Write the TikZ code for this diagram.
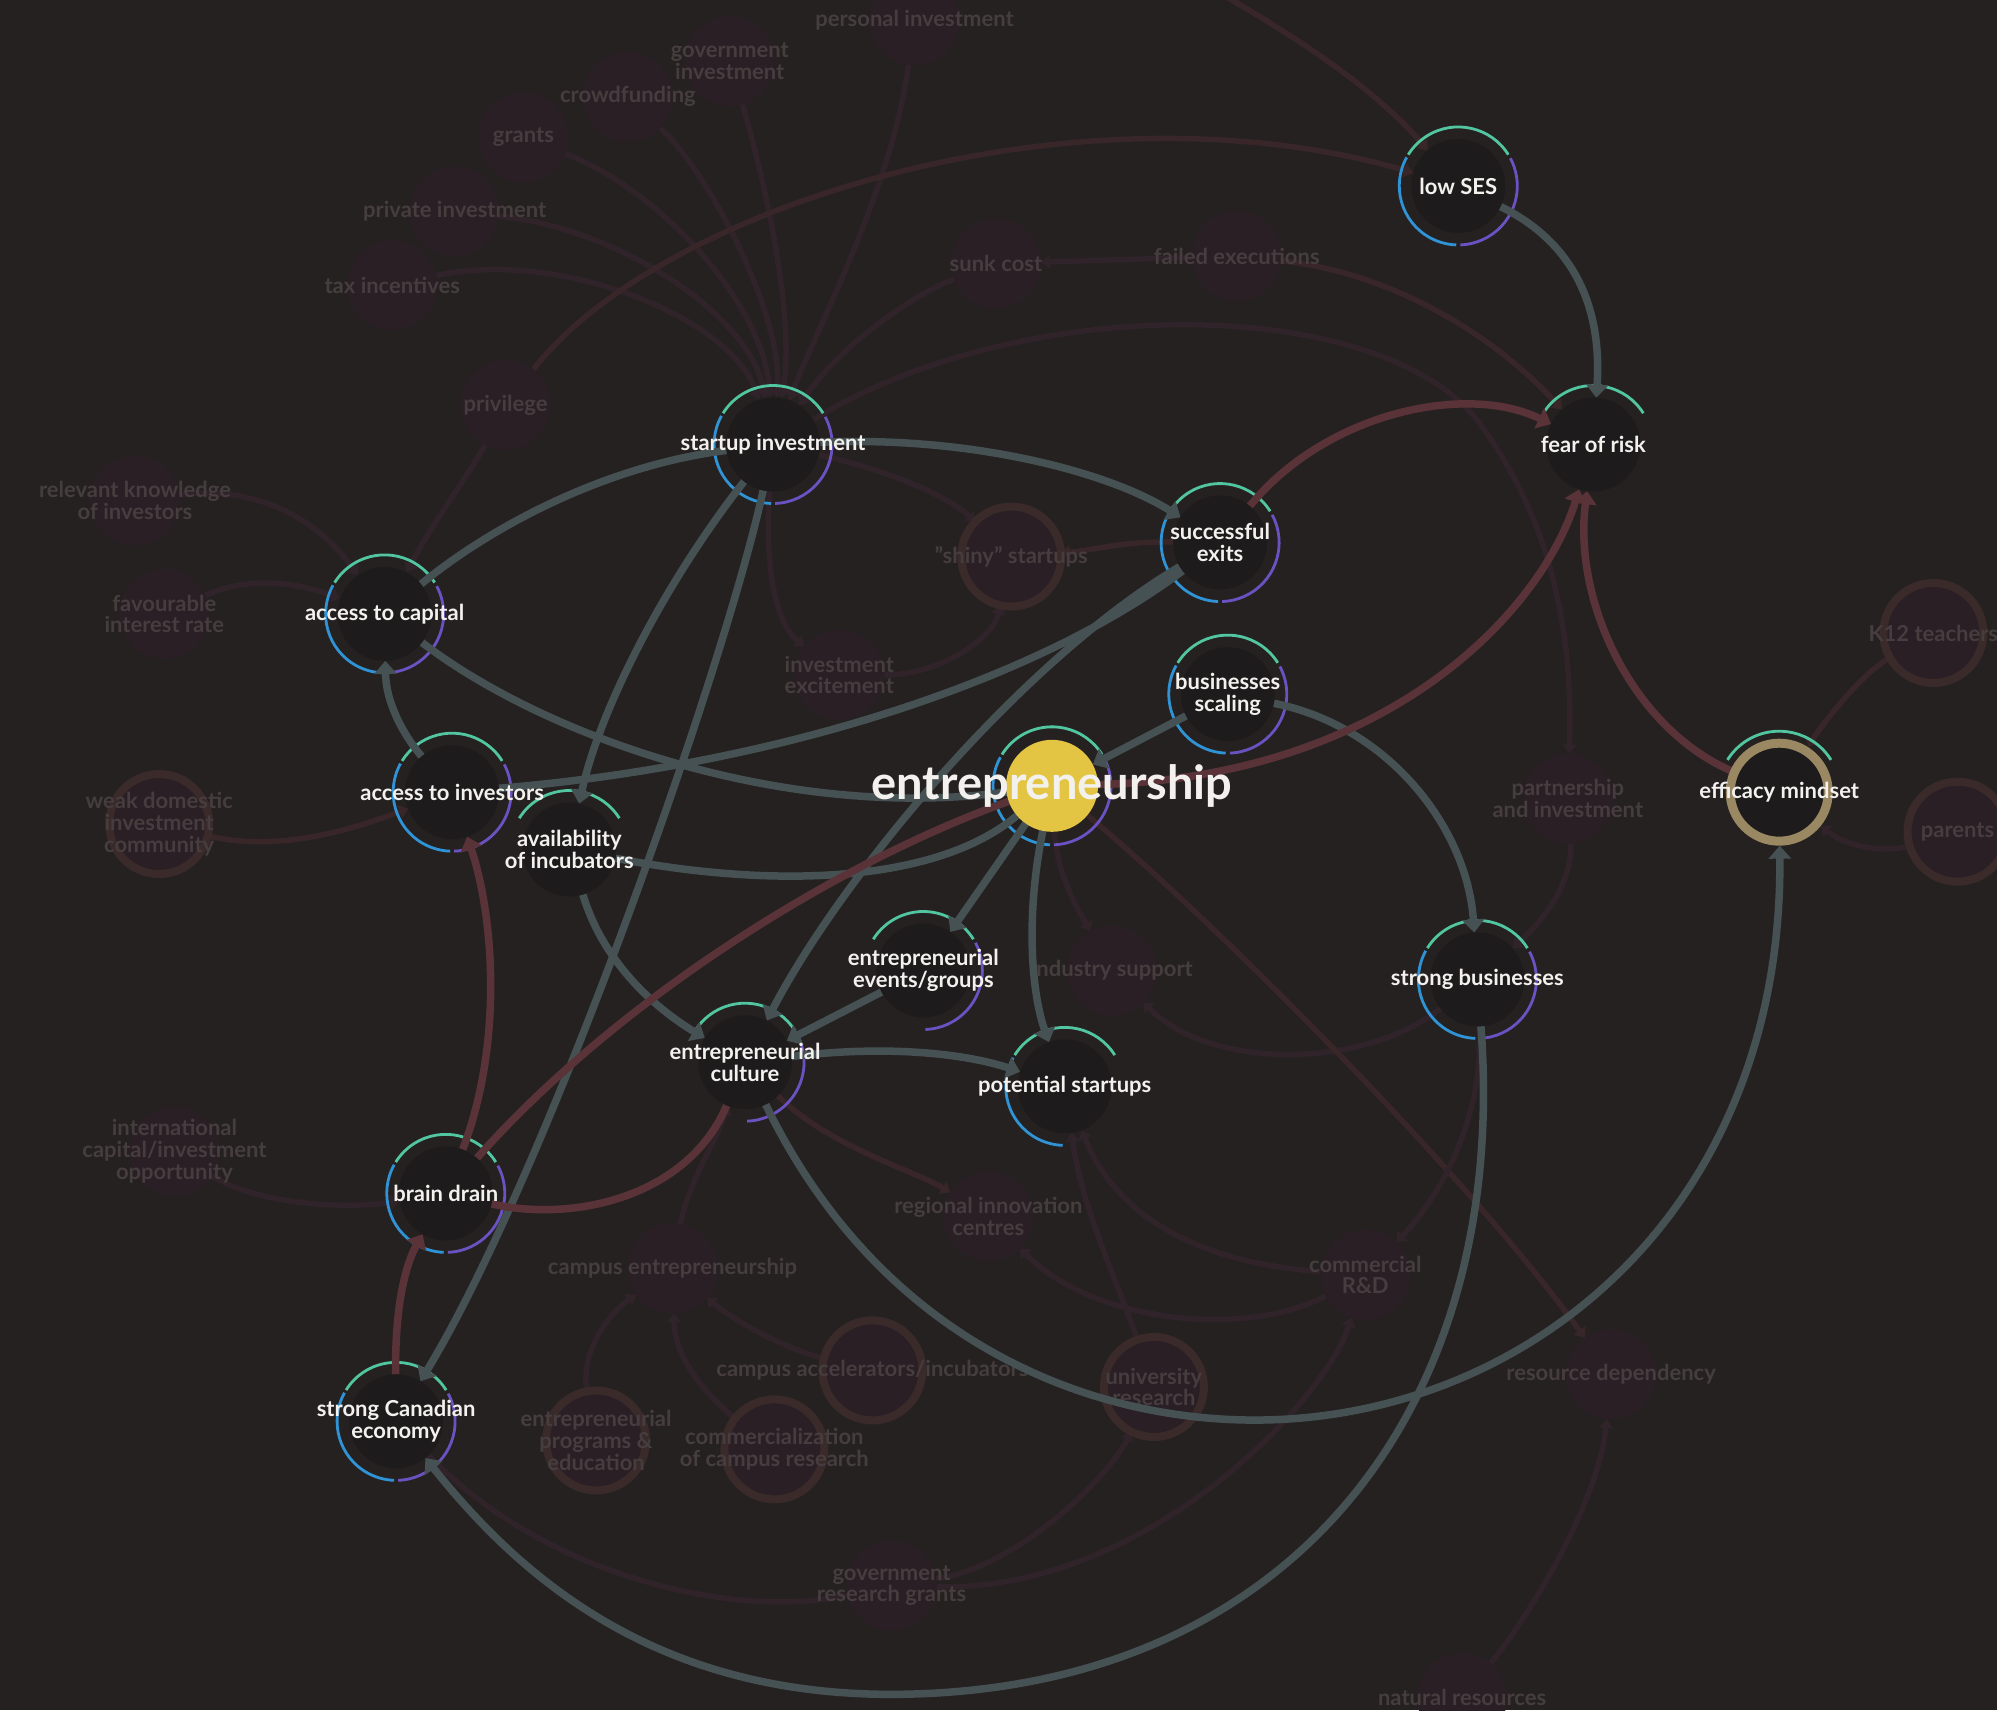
\documentclass[tikz,border=0pt]{standalone}
\usepackage{fontspec}
\setmainfont{Lato}
\usetikzlibrary{arrows.meta}

\definecolor{bgcol}{HTML}{252121}
\definecolor{nodefill}{HTML}{1E1B1C}
\definecolor{ringgreen}{HTML}{52C6A0}
\definecolor{ringblue}{HTML}{2F93D6}
\definecolor{ringpurple}{HTML}{6B52C2}
\definecolor{tanring}{HTML}{9A8862}
\definecolor{entyellow}{HTML}{E3C443}
\definecolor{textwhite}{HTML}{F3F1EE}
\definecolor{grayedge}{HTML}{465153}
\definecolor{rededge}{HTML}{5A3338}
\definecolor{faintfill}{HTML}{2A1F25}
\definecolor{faintring}{HTML}{3A2A2A}
\definecolor{fainttext}{HTML}{463D3F}
\definecolor{faintedge}{HTML}{30232A}
\definecolor{faintred}{HTML}{382629}

\pgfdeclarelayer{fedges}
\pgfdeclarelayer{fnodes}
\pgfdeclarelayer{rings}
\pgfdeclarelayer{edges}
\pgfsetlayers{fedges,fnodes,rings,edges,main}

% one coloured piece of the ring round a node
\newcommand\ringarc[5][59pt]{\draw[#3, line width=2.8pt] ([shift={(#4:#1)}]#2.center) arc[start angle=#4, end angle=#5, radius=#1];}
\newcommand\fullring[1]{\ringarc{#1}{ringgreen}{32}{148}\ringarc{#1}{ringblue}{151}{268}\ringarc{#1}{ringpurple}{272}{388}}

\begin{document}
\begin{tikzpicture}[x=1.2736pt, y=-1.2736pt,
  mainnode/.style={circle, fill=nodefill, minimum size=94pt, inner sep=0pt, outer sep=0pt},
  mtext/.style={text=textwhite, font=\fontsize{22}{21.8}\selectfont\bfseries, align=center},
  fnode/.style={circle, fill=faintfill, minimum size=90pt, inner sep=0pt, outer sep=0pt},
  fringed/.style={fnode, draw=faintring, line width=8pt, minimum size=100pt},
  ftext/.style={text=fainttext, font=\fontsize{22}{21.8}\selectfont\bfseries, align=center},
  fline/.style={draw=faintedge, line width=5.5pt, -{Triangle[length=9pt,width=14pt]}},
  fred/.style={fline, draw=faintred},
  gline/.style={draw=grayedge, line width=7.5pt},
  garrow/.style={gline, -{Triangle[length=13pt,width=22pt]}},
  rline/.style={draw=rededge, line width=7.5pt},
  rarrow/.style={rline, -{Triangle[length=13pt,width=22pt]}}]
\useasboundingbox (0,0) rectangle (1568,1343);
\begin{pgfonlayer}{fedges}
  \fill[bgcol] (0,0) rectangle (1568,1343);
\end{pgfonlayer}

% faint nodes in the back
\begin{pgfonlayer}{fnodes}
\foreach \nm/\fx/\fy/\txt in {pinv/718/16/{personal investment}, ginv/573/48/{government\\investment},
    crowd/493/76/crowdfunding, grants/411/108/grants, privinv/357/166/{private investment},
    tax/308/224/{tax incentives}, privilege/397/318/privilege, sunk/782/207/{sunk cost},
    failed/971/201/{failed executions}, relknow/106/393/{relevant knowledge\\of investors},
    favint/129/482/{favourable\\interest rate}, excite/659/530/{investment\\excitement},
    intl/137/904/{international\\capital/investment\\opportunity}, indsup/873/762/{industry support},
    partner/1231/627/{partnership\\and investment}, regional/776/955/{regional innovation\\centres},
    campent/528/996/{campus entrepreneurship}, comrd/1072/1001/{commercial\\R\&D},
    resdep/1265/1079/{resource dependency}, govgrants/700/1245/{government\\research grants},
    natres/1148/1333/{natural resources}}
  \node[fnode, label={[ftext]center:\txt}] (\nm) at (\fx,\fy) {};
\foreach \nm/\fx/\fy/\txt in {weakdom/125/647/{weak domestic\\investment\\community},
    shiny/794/437/{"shiny" startups}, k12/1518/497/{K12 teachers}, parents/1537/653/parents,
    accel/685/1076/{campus accelerators/incubators}, univ/906/1089/{university\\research},
    programs/468/1131/{entrepreneurial\\programs \&\\education},
    commz/608/1138/{commercialization\\of campus research}}
  \node[fringed, label={[ftext]center:\txt}] (\nm) at (\fx,\fy) {};
\end{pgfonlayer}

% main nodes
\node[mainnode, label={[mtext]center:low SES}] (lowses) at (1145,146) {};
\node[mainnode, label={[mtext]center:fear of risk}] (fear) at (1251,349) {};
\node[mainnode, label={[mtext]center:startup investment}] (sinv) at (607,349) {};
\node[mainnode, label={[mtext]center:{successful\\exits}}] (exits) at (958,426) {};
\node[mainnode, label={[mtext]center:{businesses\\scaling}}] (scaling) at (964,545) {};
\node[mainnode, label={[mtext]center:access to capital}] (capital) at (302,482) {};
\node[mainnode, label={[mtext]center:{availability\\of incubators}}] (incub) at (447,667) {};
\node[mainnode, label={[mtext]center:access to investors}] (investors) at (355,622) {};
\node[mainnode, fill=entyellow, minimum size=92pt,
  label={[mtext, font=\fontsize{47}{50}\selectfont\bfseries]center:entrepreneurship}] (entre) at (826,617) {};
\node[mainnode, label={[mtext]center:{entrepreneurial\\events/groups}}] (events) at (725,762) {};
\node[mainnode, label={[mtext]center:{entrepreneurial\\culture}}] (culture) at (585,834) {};
\node[mainnode, label={[mtext]center:potential startups}] (potential) at (836,853) {};
\node[mainnode, label={[mtext]center:strong businesses}] (strongbiz) at (1160,769) {};
\node[mainnode, draw=tanring, line width=9pt, minimum size=98pt, outer sep=4.5pt,
  label={[mtext]center:efficacy mindset}] (efficacy) at (1397,622) {};
\node[mainnode, label={[mtext]center:brain drain}] (brain) at (350,937) {};
\node[mainnode, label={[mtext]center:{strong Canadian\\economy}}] (economy) at (311,1116) {};

% rings
\begin{pgfonlayer}{rings}
\foreach \nm in {lowses, sinv, exits, scaling, capital, investors, entre, strongbiz, brain, economy}
  {\fullring{\nm}}
\ringarc{fear}{ringgreen}{32}{148}
\ringarc{incub}{ringgreen}{32}{148}
\ringarc{events}{ringgreen}{32}{148}
\ringarc{events}{ringpurple}{272}{388}
\ringarc{culture}{ringgreen}{32}{148}
\ringarc{culture}{ringpurple}{272}{388}
\ringarc{potential}{ringgreen}{32}{148}
\ringarc{potential}{ringblue}{151}{268}
\ringarc[61pt]{efficacy}{ringgreen}{32}{148}
\end{pgfonlayer}

% faint links
\begin{pgfonlayer}{fedges}
\draw[fline] (pinv) .. controls (700,150) and (640,260) .. (sinv);
\draw[fline] (ginv) .. controls (600,140) and (625,250) .. (sinv);
\draw[fline] (crowd) .. controls (560,140) and (615,250) .. (sinv);
\draw[fline] (grants) .. controls (520,150) and (600,240) .. (sinv);
\draw[fline] (privinv) .. controls (490,180) and (590,250) .. (sinv);
\draw[fline] (tax) .. controls (440,195) and (575,250) .. (sinv);
\draw[fline] (sunk) .. controls (720,230) and (660,270) .. (sinv);
\draw[fline] (failed) -- (sunk);
\draw[fred] (failed) .. controls (1100,215) and (1180,270) .. (fear);
\draw[fred] (privilege) .. controls (520,160) and (850,60) .. (lowses);
\coordinate (topin) at (950,-10);
\draw[fred] (topin) .. controls (1020,30) and (1080,70) .. (lowses);
\draw[fline] (sinv) .. controls (800,230) and (1080,230) .. (1160,330) .. controls (1220,410) and (1235,500) .. (partner);
\draw[fline] (privilege) .. controls (370,370) and (340,410) .. (capital);
\draw[fline] (relknow) .. controls (210,380) and (255,415) .. (capital);
\draw[fline] (favint) .. controls (200,450) and (240,460) .. (capital);
\draw[fred] (weakdom) .. controls (220,670) and (280,650) .. (investors);
\draw[fline] (intl) .. controls (200,945) and (270,950) .. (brain);
\draw[fred] (exits) .. controls (880,425) and (860,432) .. (shiny);
\draw[fline] (sinv) .. controls (700,370) and (745,390) .. (shiny);
\draw[fline] (excite) .. controls (740,530) and (780,500) .. (shiny);
\draw[fline] (sinv) .. controls (600,450) and (610,490) .. (excite);
\draw[fline] (entre) .. controls (830,690) and (850,720) .. (indsup);
\draw[fline] (strongbiz) .. controls (1070,840) and (950,840) .. (indsup);
\draw[fline] (partner) .. controls (1235,690) and (1215,720) .. (strongbiz);
\draw[fred] (k12) .. controls (1460,530) and (1430,570) .. (efficacy);
\draw[fline] (parents) .. controls (1480,670) and (1450,665) .. (efficacy);
\draw[fred] (entre) .. controls (950,720) and (1150,920) .. (resdep);
\draw[fline] (natres) .. controls (1200,1270) and (1255,1180) .. (resdep);
\draw[fline] (campent) .. controls (540,930) and (560,900) .. (culture);
\draw[fline] (programs) .. controls (455,1060) and (480,1030) .. (campent);
\draw[fline] (commz) .. controls (560,1100) and (530,1070) .. (campent);
\draw[fline] (accel) .. controls (620,1060) and (580,1040) .. (campent);
\draw[fred] (culture) .. controls (650,900) and (720,920) .. (regional);
\draw[fline] (comrd) .. controls (980,1050) and (860,1040) .. (regional);
\draw[fline] (comrd) .. controls (920,990) and (870,940) .. (potential);
\draw[fline] (strongbiz) .. controls (1165,880) and (1130,940) .. (comrd);
\draw[fline] (univ) .. controls (875,1000) and (850,950) .. (potential);
\draw[fline] (govgrants) .. controls (800,1230) and (870,1160) .. (univ);
\draw[fline] (govgrants) .. controls (900,1250) and (1040,1100) .. (comrd);
\draw[fline] (economy) .. controls (430,1240) and (580,1270) .. (govgrants);
\end{pgfonlayer}

% main links
\begin{pgfonlayer}{edges}
\draw[garrow] (lowses) .. controls (1235,190) and (1258,240) .. (fear);
\draw[garrow] (sinv) .. controls (760,342) and (870,370) .. (exits);
\draw[gline] (capital) .. controls (390,410) and (480,365) .. (sinv);
\draw[gline] (capital) .. controls (430,580) and (620,645) .. (entre);
\draw[gline] (investors) .. controls (620,600) and (820,530) .. (exits);
\draw[gline] (incub) .. controls (620,700) and (740,690) .. (entre);
\draw[garrow] (investors) .. controls (315,575) and (303,550) .. (capital);
\draw[garrow] (sinv) .. controls (520,460) and (470,560) .. (incub);
\draw[garrow] (sinv) .. controls (570,520) and (430,920) .. (economy);
\draw[garrow] (incub) .. controls (475,760) and (520,795) .. (culture);
\draw[garrow] (exits) .. controls (800,520) and (660,690) .. (culture);
\draw[garrow] (entre) -- (events);
\draw[garrow] (events) -- (culture);
\draw[garrow] (culture) .. controls (700,820) and (760,828) .. (potential);
\draw[garrow] (entre) .. controls (805,720) and (810,780) .. (potential);
\draw[garrow] (scaling) -- (entre);
\draw[garrow] (scaling) .. controls (1090,570) and (1152,650) .. (strongbiz);
\draw[garrow] (strongbiz) .. controls (1185,1100) and (1020,1320) .. (720,1330) .. controls (520,1337) and (410,1240) .. (economy);
\draw[garrow] (culture) .. controls (690,1050) and (850,1115) .. (985,1115) .. controls (1200,1115) and (1400,950) .. (efficacy);
% red links
\draw[rarrow] (exits) .. controls (1040,325) and (1150,300) .. (fear);
\draw[rarrow] (entre) .. controls (1090,610) and (1210,480) .. (fear);
\draw[rarrow] (efficacy) .. controls (1280,570) and (1235,470) .. (fear);
\draw[rarrow] (brain) .. controls (395,820) and (388,720) .. (investors);
\draw[rarrow] (economy) .. controls (310,1020) and (320,990) .. (brain);
\draw[rline] (brain) .. controls (480,790) and (650,680) .. (entre);
\draw[rline] (culture) .. controls (540,940) and (450,960) .. (brain);
\end{pgfonlayer}
\end{tikzpicture}
\end{document}
